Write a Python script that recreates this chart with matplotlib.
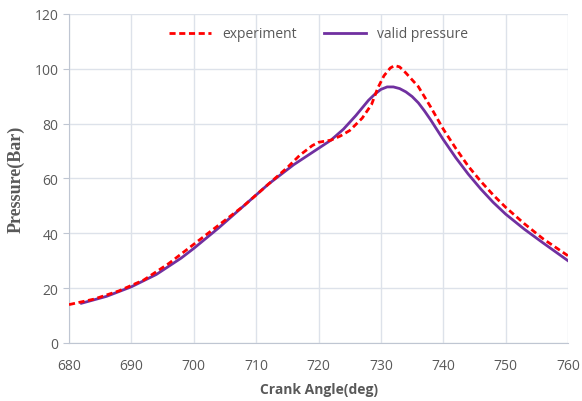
import matplotlib.pyplot as plt

# --- data ---
exp_angle = [680, 684, 688, 692, 696, 700, 704, 708, 712, 715, 717, 719, 720, 722, 723.5,
             725, 727, 728.5, 729.5, 730.5, 731.5, 732.2, 733, 734, 736, 738, 740, 742,
             744, 746, 748, 750, 753, 756, 760]
exp_pressure = [14.0, 16.0, 19.0, 23.0, 29.0, 36.0, 43.0, 50.0, 58.0, 64.0, 68.5, 72.0,
                73.2, 74.0, 75.5, 77.5, 82.0, 87.0, 93.0, 97.5, 100.3, 101.2, 100.7, 98.5,
                93.5, 86.0, 78.0, 71.0, 64.5, 59.0, 54.0, 49.5, 43.5, 38.0, 31.8]

valid_angle = [682, 686, 690, 694, 698, 700, 704, 708, 712, 716, 720, 722, 724, 726,
               728, 729, 730, 731, 732, 733, 734, 735, 736, 737, 738, 740, 742, 744,
               746, 748, 750, 753, 756, 760]
valid_pressure = [14.5, 17.0, 20.5, 25.0, 31.0, 34.5, 42.0, 50.0, 58.0, 65.0, 71.0, 74.0,
                  78.0, 83.0, 88.5, 90.7, 92.5, 93.4, 93.4, 92.8, 91.6, 89.9, 87.6, 84.6,
                  81.3, 74.2, 67.6, 61.6, 56.2, 51.3, 47.0, 41.5, 36.5, 30.0]

x_ticks = list(range(680, 761, 10))
y_ticks = list(range(0, 121, 20))

def main():
    plt.rcParams["font.family"] = ["Open Sans", "DejaVu Sans"]
    fig = plt.figure(figsize=(5.82, 4.02), dpi=100)
    ax = fig.add_axes([0.1186, 0.1443, 0.8574, 0.8184])

    grid_c = "#dde2ea"
    txt_c = "#595959"

    ax.plot(exp_angle, exp_pressure, color="#ff0000", linestyle=(0, (2.2, 1.3)),
            linewidth=2.0, label="experiment", zorder=3)
    ax.plot(valid_angle, valid_pressure, color="#7030a0", linewidth=2.0,
            label="valid pressure", zorder=2)

    ax.set_xlim(680, 760)
    ax.set_ylim(0, 120)
    ax.set_xticks(x_ticks)
    ax.set_yticks(y_ticks)
    ax.grid(True, color=grid_c, linewidth=1.0)
    ax.set_axisbelow(True)

    for s in ["top", "right"]:
        ax.spines[s].set_visible(False)
    ax.spines["left"].set_color("#bfc6d2")
    ax.spines["bottom"].set_color("#bfc6d2")
    ax.tick_params(axis="both", colors=txt_c, labelsize=10, length=4,
                   color="#bfc6d2")
    ax.tick_params(axis="x", length=0, pad=11)

    ax.set_xlabel("Crank Angle(deg)", fontsize=10, fontweight="bold",
                  color=txt_c, labelpad=6)
    ax.set_ylabel("Pressure(Bar)", fontsize=13, fontweight="bold",
                  color=txt_c, family="Liberation Serif", labelpad=7)

    leg = ax.legend(loc="upper center", ncol=2, frameon=False, fontsize=10,
                    handlelength=3.0, columnspacing=2.0,
                    bbox_to_anchor=(0.5, 1.0))
    for t in leg.get_texts():
        t.set_color(txt_c)

    fig.savefig("out.png", dpi=100)
    plt.close(fig)

if __name__ == "__main__":
    main()
